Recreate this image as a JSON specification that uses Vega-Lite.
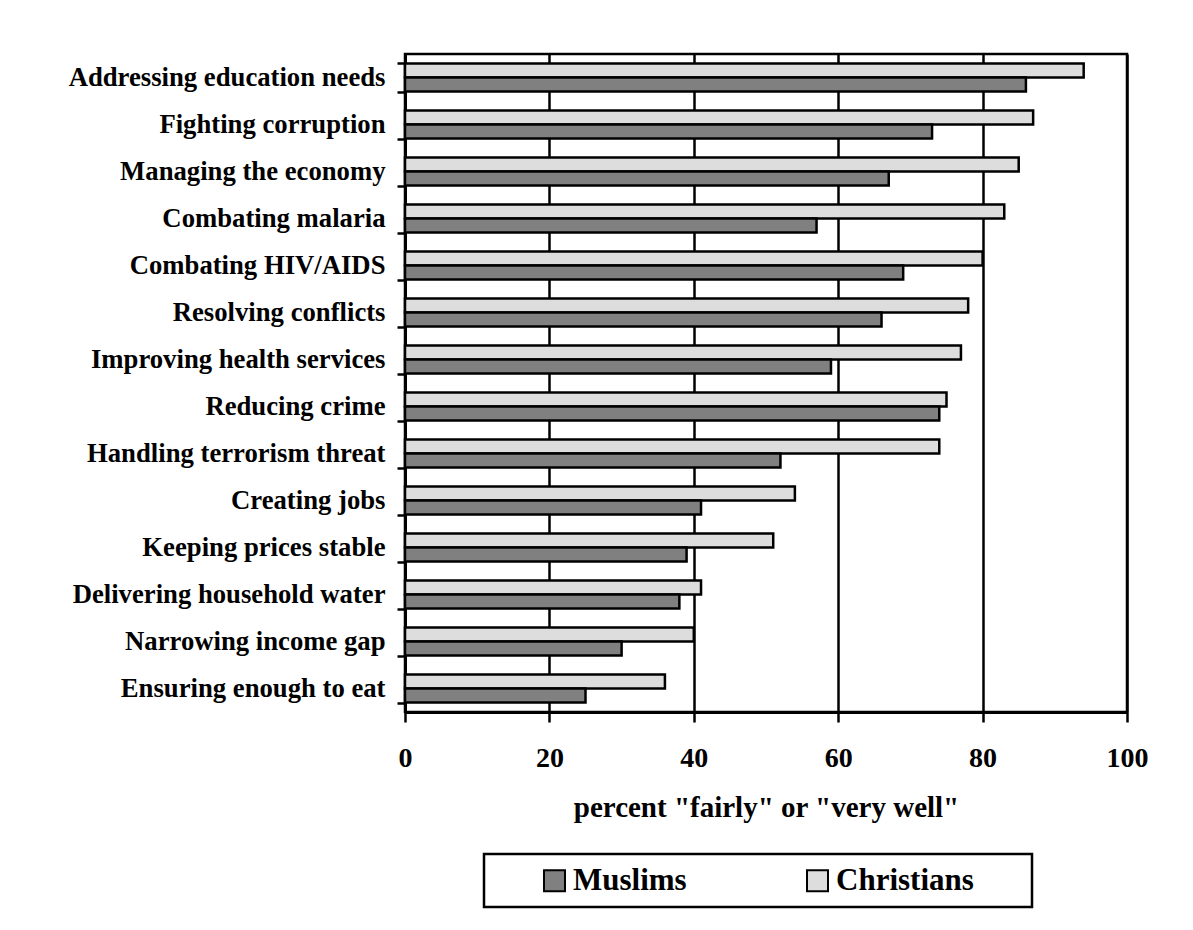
{
  "$schema": "https://vega.github.io/schema/vega-lite/v6.json",
  "autosize": "none",
  "width": 722,
  "height": 658,
  "padding": {"left": 405, "top": 54, "right": 66, "bottom": 218},
  "background": "white",
  "config": {
    "view": {"stroke": "black", "strokeWidth": 2.5},
    "font": "Liberation Serif"
  },
  "data": {
    "values": [
      {"issue": "Addressing education needs", "group": "Christians", "pct": 94},
      {"issue": "Addressing education needs", "group": "Muslims", "pct": 86},
      {"issue": "Fighting corruption", "group": "Christians", "pct": 87},
      {"issue": "Fighting corruption", "group": "Muslims", "pct": 73},
      {"issue": "Managing the economy", "group": "Christians", "pct": 85},
      {"issue": "Managing the economy", "group": "Muslims", "pct": 67},
      {"issue": "Combating malaria", "group": "Christians", "pct": 83},
      {"issue": "Combating malaria", "group": "Muslims", "pct": 57},
      {"issue": "Combating HIV/AIDS", "group": "Christians", "pct": 80},
      {"issue": "Combating HIV/AIDS", "group": "Muslims", "pct": 69},
      {"issue": "Resolving conflicts ", "group": "Christians", "pct": 78},
      {"issue": "Resolving conflicts ", "group": "Muslims", "pct": 66},
      {"issue": "Improving health services", "group": "Christians", "pct": 77},
      {"issue": "Improving health services", "group": "Muslims", "pct": 59},
      {"issue": "Reducing crime", "group": "Christians", "pct": 75},
      {"issue": "Reducing crime", "group": "Muslims", "pct": 74},
      {"issue": "Handling terrorism threat", "group": "Christians", "pct": 74},
      {"issue": "Handling terrorism threat", "group": "Muslims", "pct": 52},
      {"issue": "Creating jobs", "group": "Christians", "pct": 54},
      {"issue": "Creating jobs", "group": "Muslims", "pct": 41},
      {"issue": "Keeping prices stable", "group": "Christians", "pct": 51},
      {"issue": "Keeping prices stable", "group": "Muslims", "pct": 39},
      {"issue": "Delivering household water", "group": "Christians", "pct": 41},
      {"issue": "Delivering household water", "group": "Muslims", "pct": 38},
      {"issue": "Narrowing income gap", "group": "Christians", "pct": 40},
      {"issue": "Narrowing income gap", "group": "Muslims", "pct": 30},
      {"issue": "Ensuring enough to eat", "group": "Christians", "pct": 36},
      {"issue": "Ensuring enough to eat", "group": "Muslims", "pct": 25}
    ]
  },
  "mark": {"type": "bar", "stroke": "black", "strokeWidth": 2.5},
  "encoding": {
    "y": {
      "field": "issue",
      "type": "nominal",
      "sort": null,
      "scale": {"paddingInner": 0.4, "paddingOuter": 0.2},
      "axis": {
        "title": null,
        "domainColor": "black",
        "domainWidth": 3,
        "tickColor": "black",
        "tickWidth": 2.5,
        "tickSize": 8,
        "tickBand": "extent",
        "labelFont": "Liberation Serif",
        "labelFontWeight": "bold",
        "labelFontSize": 26.7,
        "labelColor": "black",
        "labelPadding": 12,
        "labelLimit": 400,
        "grid": false
      }
    },
    "yOffset": {
      "field": "group",
      "type": "nominal",
      "scale": {"domain": ["Christians", "Muslims"], "paddingInner": 0, "paddingOuter": 0}
    },
    "x": {
      "field": "pct",
      "type": "quantitative",
      "scale": {"domain": [0, 100], "nice": false},
      "axis": {
        "title": "percent \"fairly\" or \"very well\"",
        "values": [0, 20, 40, 60, 80, 100],
        "domainColor": "black",
        "domainWidth": 3,
        "tickColor": "black",
        "tickWidth": 2.5,
        "tickSize": 10,
        "labelFont": "Liberation Serif",
        "labelFontWeight": "bold",
        "labelFontSize": 28,
        "labelColor": "black",
        "labelPadding": 22,
        "labelFlush": false,
        "grid": true,
        "gridColor": "black",
        "gridWidth": 2.5,
        "gridOpacity": 1,
        "titleFont": "Liberation Serif",
        "titleFontWeight": "bold",
        "titleFontSize": 29,
        "titleColor": "black",
        "titlePadding": 21
      }
    },
    "fill": {
      "field": "group",
      "type": "nominal",
      "scale": {"domain": ["Muslims", "Christians"], "range": ["#808080", "#dddddd"]},
      "legend": {
        "orient": "none",
        "legendX": 79,
        "legendY": 800,
        "direction": "horizontal",
        "title": "\u200b\u00a0\u00a0\u00a0\u00a0\u00a0\u200b",
        "titleOrient": "left",
        "titleFont": "Liberation Serif",
        "titleFontSize": 31,
        "titlePadding": 5,
        "symbolType": "square",
        "symbolSize": 441,
        "symbolStrokeColor": "black",
        "symbolStrokeWidth": 2,
        "symbolOpacity": 1,
        "labelFont": "Liberation Serif",
        "labelFontWeight": "bold",
        "labelFontSize": 31,
        "labelColor": "black",
        "labelOffset": 3,
        "labelLimit": 400,
        "labelExpr": "datum.label == 'Christians' ? datum.label + '\u00a0\u00a0\u00a0\u00a0\u00a0\u00a0\u200b' : datum.label",
        "columnPadding": 115,
        "padding": 11,
        "strokeColor": "black",
        "fillColor": "white",
        "encode": {"legend": {"update": {"strokeWidth": {"value": 2.5}}}}
      }
    }
  }
}
